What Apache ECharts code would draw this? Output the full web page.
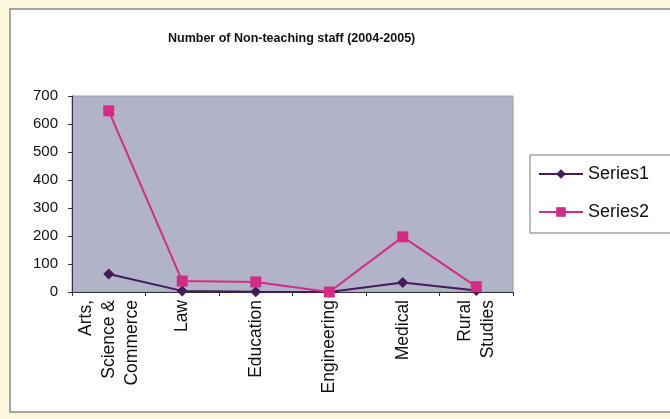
<!DOCTYPE html>
<html>
<head>
<meta charset="utf-8">
<script src="https://cdn.jsdelivr.net/npm/echarts@6/dist/echarts.min.js"></script>
<style>
  html, body { margin: 0; padding: 0; background: #fbf8de; }
  #chart { width: 670px; height: 419px; }
</style>
</head>
<body>
<div id="chart"></div>
<script>
// data
var categories = ['Arts,\nScience &\nCommerce', 'Law', 'Education', 'Engineering', 'Medical', 'Rural\nStudies'];
var series1 = [64, 4, 1, 0, 34, 5];
var series2 = [647, 39, 36, 0, 197, 19];
var seriesNames = ['Series1', 'Series2'];
var yTicks = { min: 0, max: 700, interval: 100 };

var font = "'Liberation Sans', Arial, sans-serif";
var myChart = echarts.init(document.getElementById('chart'));

var option = {
  backgroundColor: '#fbf8de',
  animation: false,
  graphic: [{
    type: 'rect',
    z: -10,
    shape: { x: 10, y: 9, width: 680, height: 403 },
    style: { fill: '#ffffff', stroke: '#8a8a8a', lineWidth: 1.5 }
  }],
  title: {
    text: 'Number of Non-teaching staff (2004-2005)',
    left: 163,
    top: 27,
    textStyle: { fontFamily: font, fontSize: 12.5, fontWeight: 'bold', color: '#111' }
  },
  color: ['#451a58', '#d42c86'],
  legend: {
    orient: 'vertical',
    left: 530,
    top: 155,
    padding: [10, 30, 12, 8],
    itemGap: 20,
    itemWidth: 44,
    itemHeight: 12,
    borderColor: '#777',
    borderWidth: 1,
    textStyle: { fontFamily: font, fontSize: 18, color: '#111', padding: [0, 0, 0, 0] },
    data: seriesNames
  },
  grid: {
    left: 72,
    right: 157,
    top: 96,
    bottom: 127,
    show: true,
    backgroundColor: '#b1b4c8',
    borderColor: '#9a9aa8',
    borderWidth: 1
  },
  xAxis: {
    type: 'category',
    data: categories,
    boundaryGap: true,
    axisLine: { lineStyle: { color: '#333', width: 1 } },
    axisTick: { show: true, alignWithLabel: false, length: 4, lineStyle: { color: '#333' } },
    axisLabel: {
      rotate: 90,
      interval: 0,
      margin: 8,
      fontFamily: font,
      fontSize: 17.5,
      lineHeight: 23,
      color: '#111'
    },
    splitLine: { show: false }
  },
  yAxis: {
    type: 'value',
    min: yTicks.min,
    max: yTicks.max,
    interval: yTicks.interval,
    axisLine: { show: true, lineStyle: { color: '#333', width: 1 } },
    axisTick: { show: true, length: 4, lineStyle: { color: '#333' } },
    axisLabel: { fontFamily: font, fontSize: 15, color: '#111', margin: 14 },
    splitLine: { show: false }
  },
  series: [
    {
      name: seriesNames[0],
      type: 'line',
      data: series1,
      symbol: 'diamond',
      symbolSize: 11,
      lineStyle: { width: 2 }
    },
    {
      name: seriesNames[1],
      type: 'line',
      data: series2,
      symbol: 'rect',
      symbolSize: 11,
      lineStyle: { width: 2 }
    }
  ]
};

myChart.setOption(option);
</script>
</body>
</html>
